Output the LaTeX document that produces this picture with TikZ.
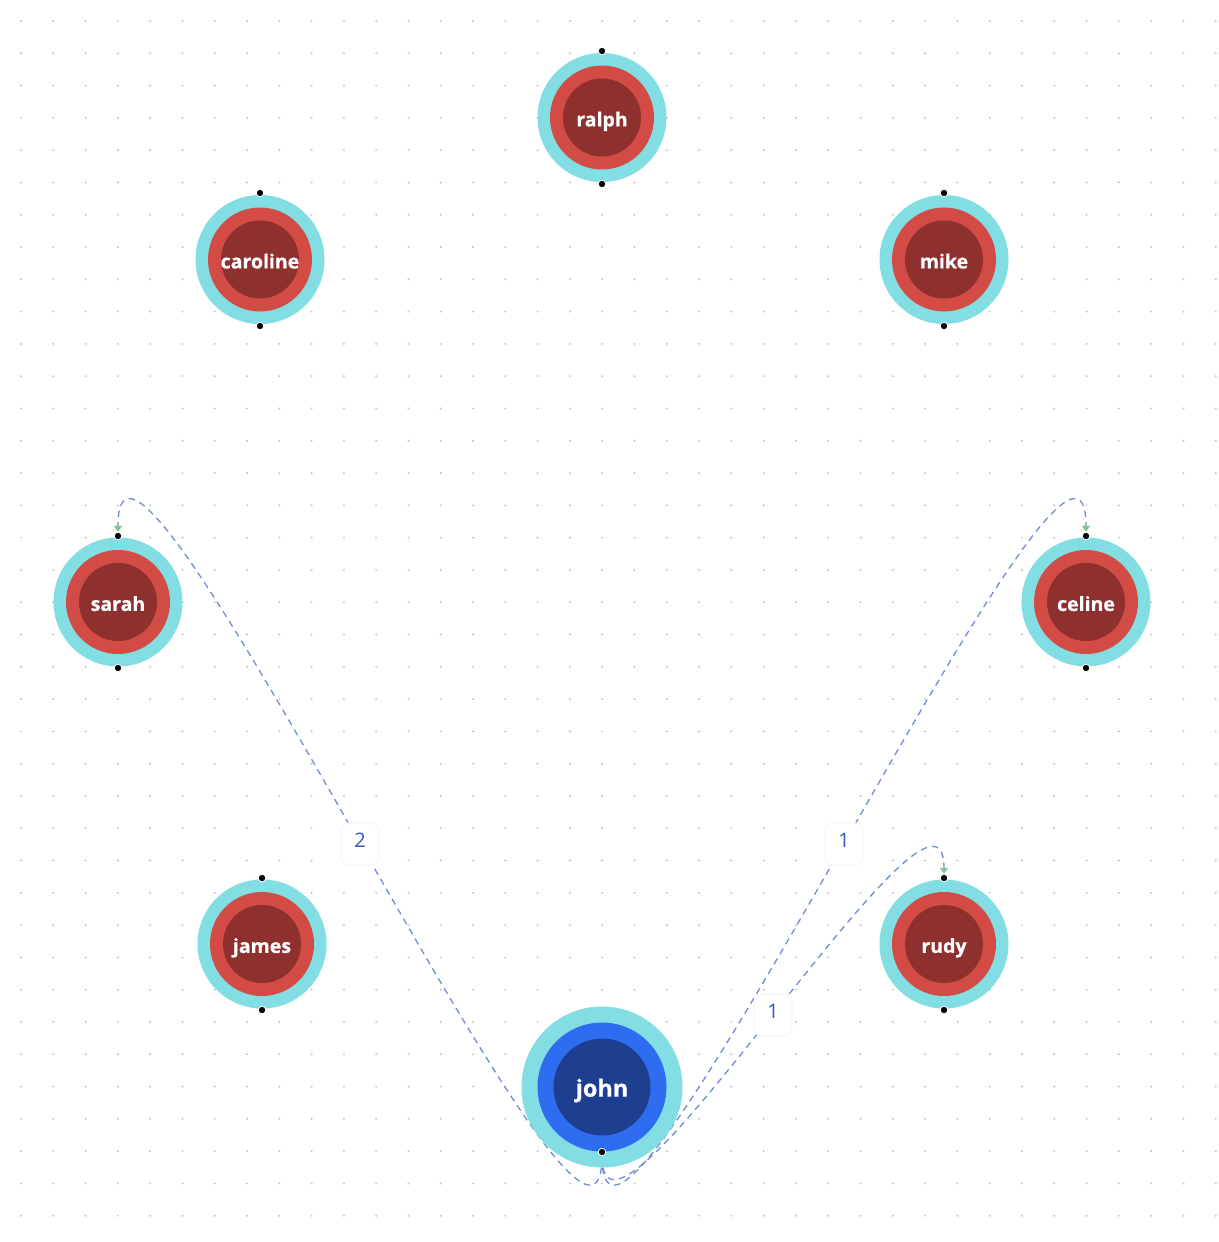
\documentclass[tikz,border=0pt]{standalone}
\usepackage{fontspec}
\setmainfont{Open Sans}
\newfontfamily\nodefont[BoldFeatures={FakeBold=0.7}]{Open Sans}
\usetikzlibrary{arrows.meta}
\definecolor{ringcyan}{HTML}{82DEE3}
\definecolor{redmid}{HTML}{D24B45}
\definecolor{reddark}{HTML}{8E302E}
\definecolor{bluemid}{HTML}{2F6DF0}
\definecolor{bluedark}{HTML}{1E3F90}
\definecolor{edgeblue}{HTML}{6E8FD2}
\definecolor{arrowgreen}{HTML}{7CC68F}
\definecolor{griddot}{HTML}{C4C4C4}
\definecolor{labelblue}{HTML}{3559BA}
\pgfdeclarelayer{bg}
\pgfsetlayers{bg,main}
\tikzset{
  redperson/.style={circle, fill=ringcyan, minimum size=129pt, inner sep=0pt,
    text=white, font=\fontsize{19.5}{22}\nodefont\bfseries,
    text height=2.0em, text depth=0.22em,
    path picture={
      \fill[redmid] (path picture bounding box.center) circle (52pt);
      \fill[reddark] (path picture bounding box.center) circle (39pt);
    }},
  blueperson/.style={circle, fill=ringcyan, minimum size=161pt, inner sep=0pt,
    text=white, font=\fontsize{23.5}{26}\nodefont\bfseries,
    text height=2.15em, text depth=0.22em,
    path picture={
      \fill[bluemid] (path picture bounding box.center) circle (64.5pt);
      \fill[bluedark] (path picture bounding box.center) circle (48.5pt);
    }},
  handle/.style={circle, fill=black, draw=white, line width=0.8pt, minimum size=7.5pt, inner sep=0pt},
  edgeline/.style={draw=edgeblue, line width=1.3pt, dash pattern=on 6.5pt off 5pt},
  tipgreen/.style={-{Triangle[color=arrowgreen, length=6pt, width=8pt]}},
  edgelabel/.style={fill=white, draw=black!3, rounded corners=8pt, minimum width=38pt,
    minimum height=42pt, inner sep=0pt, text=labelblue, font=\fontsize{20}{22}\selectfont,
    text height=0.72em, text depth=0.02em, solid},
}
\begin{document}
\begin{tikzpicture}[x=1pt, y=-1pt]
\useasboundingbox (0,0) rectangle (1218,1242);
\begin{pgfonlayer}{bg}
  \fill[white] (0,0) rectangle (1218,1242);
  \foreach \i in {0,...,37} {
    \foreach \j in {0,...,37} {
      \fill[griddot] ({21+32.29*\i},{21+32.29*\j}) circle (1.1pt);
    }
  }
\end{pgfonlayer}

% persons
\node[redperson] (ralph) at (602,117.5) {ralph};
\node[redperson] (caroline) at (260,259.5) {caroline};
\node[redperson] (mike) at (944,259.5) {mike};
\node[redperson] (sarah) at (118,602) {sarah};
\node[redperson] (celine) at (1086,602) {celine};
\node[redperson] (james) at (262,944) {james};
\node[redperson] (rudy) at (944,944) {rudy};
\node[blueperson] (john) at (602,1087) {john};

% handles
\node[handle] (ralphT) at (602,51) {};
\node[handle] (ralphB) at (602,184) {};
\node[handle] (carolineT) at (260,193) {};
\node[handle] (carolineB) at (260,326) {};
\node[handle] (mikeT) at (944,193) {};
\node[handle] (mikeB) at (944,326) {};
\node[handle] (sarahT) at (118,536) {};
\node[handle] (sarahB) at (118,668) {};
\node[handle] (celineT) at (1086,536) {};
\node[handle] (celineB) at (1086,668) {};
\node[handle] (jamesT) at (262,878) {};
\node[handle] (jamesB) at (262,1010) {};
\node[handle] (rudyT) at (944,878) {};
\node[handle] (rudyB) at (944,1010) {};
\node[handle] (johnB) at (602,1152) {};

% edges
\begin{pgfonlayer}{bg}
  \draw[edgeline, tipgreen] (johnB.south) .. controls +(0,215) and +(0,-215) .. (sarahT.north)
    node[edgelabel, pos=0.5] (lab2) {2};
  \draw[edgeline, tipgreen] (johnB.south) .. controls +(0,215) and +(0,-215) .. (celineT.north)
    node[edgelabel, pos=0.5] (lab1a) {1};
  \draw[edgeline, tipgreen] (johnB.south) .. controls +(0,144) and +(0,-144) .. (rudyT.north)
    node[edgelabel, pos=0.5] (lab1b) {1};
\end{pgfonlayer}
\end{tikzpicture}
\end{document}
